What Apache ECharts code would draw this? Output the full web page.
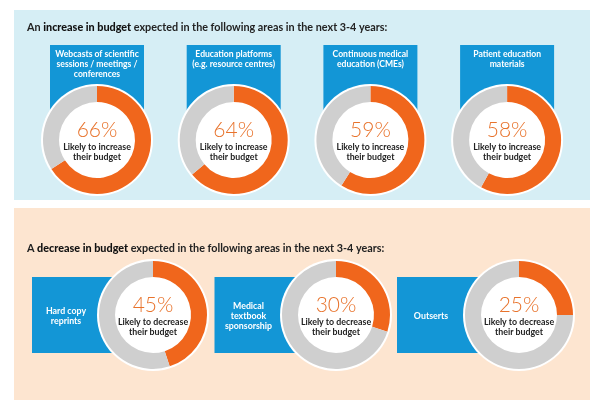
<!DOCTYPE html>
<html>
<head>
<meta charset="utf-8">
<script src="https://cdn.jsdelivr.net/npm/echarts@6/dist/echarts.min.js"></script>
<style>
  html, body { margin: 0; padding: 0; background: #fff; }
  #main { width: 602px; height: 413px; }
</style>
</head>
<body>
<div id="main"></div>
<script>
var myChart = echarts.init(document.getElementById('main'));

// data
var topCats = ['Webcasts of scientific\nsessions / meetings /\nconferences', 'Education platforms\n(e.g. resource centres)', 'Continuous medical\neducation (CMEs)', 'Patient education\nmaterials'];
var topValues = [66, 64, 59, 58];
var bottomCats = ['Hard copy\nreprints', 'Medical\ntextbook\nsponsorship', 'Outserts'];
var bottomValues = [45, 30, 25];
var topTitle = ['An ', 'increase in budget', ' expected in the following areas in the next 3-4 years:'];
var bottomTitle = ['A ', 'decrease in budget', ' expected in the following areas in the next 3-4 years:'];

var FONT = 'Lato, "Noto Sans", sans-serif';
var ORANGE = '#f0661c';
var GREY = '#cfcfcf';
var BLUE = '#1396d6';

var graphics = [];
var series = [];

// panels
graphics.push({ type: 'rect', z: 0, shape: { x: 14, y: 10, width: 576, height: 190 }, style: { fill: '#d6eef5' } });
graphics.push({ type: 'rect', z: 0, shape: { x: 14, y: 208, width: 576, height: 192 }, style: { fill: '#fde5d0' } });

function titleText(parts, y) {
    return {
        type: 'text', z: 1, x: 27, y: y,
        style: {
            text: '{n|' + parts[0] + '}{b|' + parts[1] + '}{n|' + parts[2] + '}',
            verticalAlign: 'middle',
            rich: {
                n: { fontFamily: FONT, fontSize: 10.8, fontWeight: 700, fill: '#222' },
                b: { fontFamily: FONT, fontSize: 10.8, fontWeight: 900, fill: '#111' }
            }
        }
    };
}
graphics.push(titleText(topTitle, 28));
graphics.push(titleText(bottomTitle, 249));

function donut(cx, cy, value, verb) {
    // white backdrop (halo + inner disc)
    series.push({
        type: 'pie', silent: true, z: 3, animation: false,
        center: [cx, cy], radius: [0, 56],
        label: { show: false }, labelLine: { show: false },
        data: [{ value: 1, itemStyle: { color: '#fff' } }]
    });
    series.push({
        type: 'pie', silent: true, z: 4, animation: false,
        center: [cx, cy], radius: [38, 54], startAngle: 90, clockwise: true,
        labelLine: { show: false },
        label: {
            show: true, position: 'center',
            formatter: '{p|' + value + '%}\n{t|Likely to ' + verb + '}\n{t|their budget}',
            rich: {
                p: { fontFamily: FONT, fontSize: 21, fontWeight: 300, color: '#e8732c', lineHeight: 24 },
                t: { fontFamily: FONT, fontSize: 8.8, fontWeight: 700, color: '#222', lineHeight: 10 }
            }
        },
        data: [
            { value: value, itemStyle: { color: ORANGE } },
            { value: 100 - value, itemStyle: { color: GREY }, label: { show: false } }
        ]
    });
}

// top row
topCats.forEach(function (name, i) {
    var cx = 97 + i * 136.7;
    graphics.push({ type: 'rect', z: 1, shape: { x: cx - 47, y: 45, width: 94, height: 70 }, style: { fill: BLUE } });
    graphics.push({
        type: 'text', z: 1, x: cx, y: 49,
        style: { text: name, align: 'center', verticalAlign: 'top', fill: '#fff', fontFamily: FONT, fontSize: 8.6, fontWeight: 700, lineHeight: 10 }
    });
    donut(cx, 140, topValues[i], 'increase');
});

// bottom row
bottomCats.forEach(function (name, i) {
    var bx = 32 + i * 182.5;
    var cx = 153 + i * 183;
    graphics.push({ type: 'rect', z: 1, shape: { x: bx, y: 277, width: cx - bx, height: 76 }, style: { fill: BLUE } });
    graphics.push({
        type: 'text', z: 1, x: bx + 34, y: 316,
        style: { text: name, align: 'center', verticalAlign: 'middle', fill: '#fff', fontFamily: FONT, fontSize: 8.8, fontWeight: 700, lineHeight: 10 }
    });
    donut(cx, 315, bottomValues[i], 'decrease');
});

var option = {
    backgroundColor: '#fff',
    animation: false,
    graphic: { elements: graphics },
    series: series
};

myChart.setOption(option);
</script>
</body>
</html>
